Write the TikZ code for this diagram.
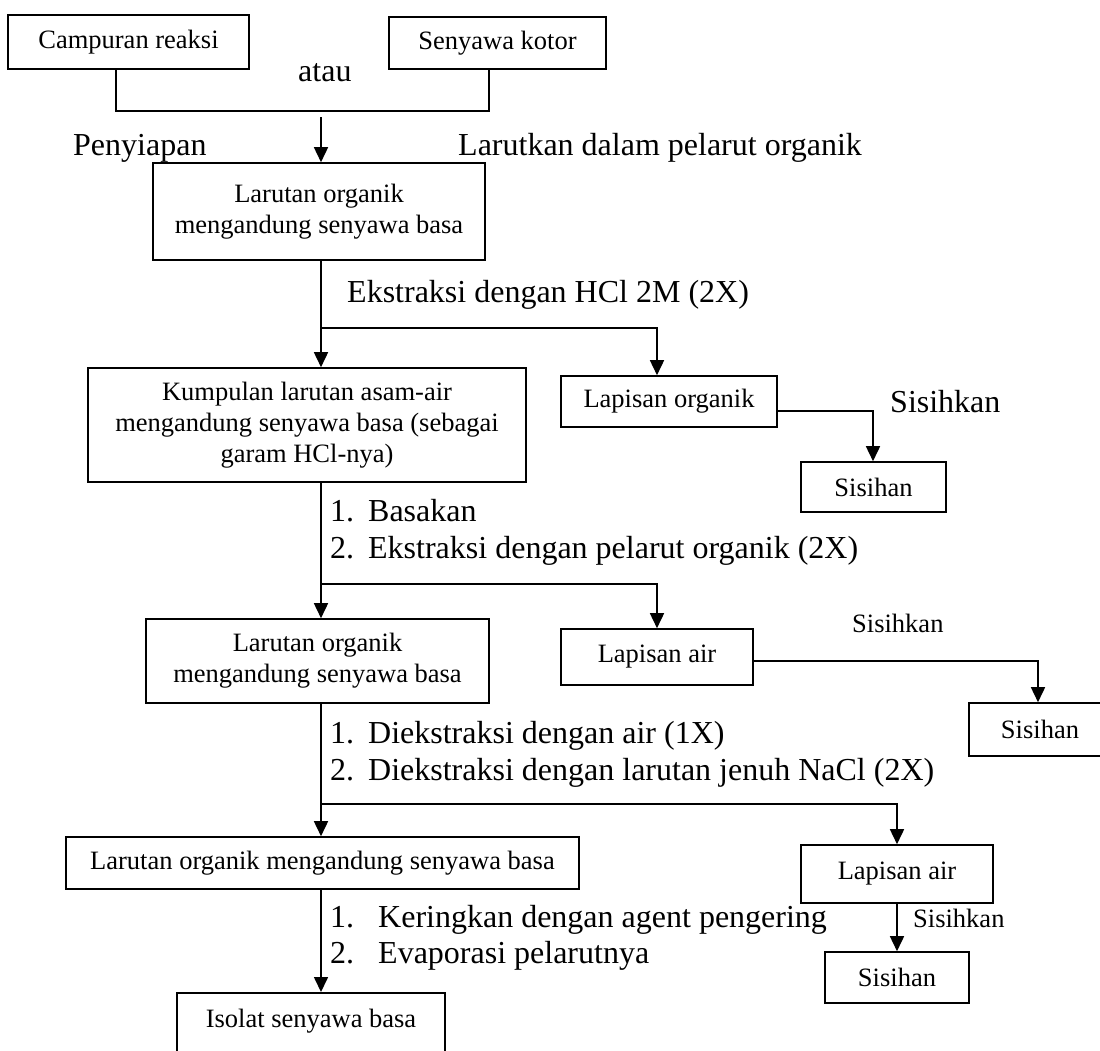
\documentclass[tikz,border=0pt]{standalone}
\usepackage{fontspec}
\setmainfont{Liberation Serif}
\usetikzlibrary{arrows.meta}

\tikzset{
  box/.style={draw, line width=1.6pt, inner sep=0pt, align=center,
              font=\fontsize{26.5}{31}\selectfont},
  big/.style={inner sep=0pt, anchor=base west, font=\fontsize{32}{38}\selectfont},
  small/.style={inner sep=0pt, anchor=base west, font=\fontsize{26.5}{31}\selectfont},
  link/.style={line width=1.6pt},
  arr/.style={link, -{Triangle[width=14pt,length=15pt]}},
}

\begin{document}
\begin{tikzpicture}[x=1pt,y=-1pt]
  % page frame
  \fill[white] (0,0) rectangle (1100,1050);
  \useasboundingbox (0,0) rectangle (1100,1050);
  \clip (0,0) rectangle (1100,1050);

  % main spine of the procedure
  \coordinate (spine) at (321,0);

  % starting materials
  \node[box, minimum width=241, minimum height=54] (camp) at (128.5,42) {Campuran reaksi};
  \node[box, minimum width=217, minimum height=52] (kotor) at (497.5,43) {Senyawa kotor};
  \node[big] (atau) at (298,81) {atau};

  % process boxes along the spine
  \node[box, minimum width=332, minimum height=97] (lar1) at (319,211.5)
       {Larutan organik\\mengandung senyawa basa};
  \node[box, minimum width=438, minimum height=114] (kump) at (307,425)
       {Kumpulan larutan asam-air\\mengandung senyawa basa (sebagai\\garam HCl-nya)};
  \node[box, minimum width=343, minimum height=84] (lar2) at (317.5,661)
       {Larutan organik\\mengandung senyawa basa};
  \node[box, minimum width=513, minimum height=52] (lar3) at (322.5,863)
       {Larutan organik mengandung senyawa basa};
  \node[box, minimum width=268, anchor=north, text height=35pt, text depth=40pt] (iso)
       at (311,992) {Isolat senyawa basa};

  % side streams
  \node[box, minimum width=216, minimum height=51] (lorg) at (669,401.5) {Lapisan organik};
  \node[box, minimum width=145, minimum height=50] (sis1) at (873.5,487) {Sisihan};
  \node[box, minimum width=192, minimum height=56] (lair1) at (657,657) {Lapisan air};
  \node[box, minimum width=142, minimum height=53] (sis2) at (1040,729.5) {Sisihan};
  \node[box, minimum width=192, minimum height=58] (lair2) at (897,874) {Lapisan air};
  \node[box, minimum width=144, minimum height=51] (sis3) at (897,977.5) {Sisihan};

  % step labels
  \node[big] (prep) at (73,155) {Penyiapan};
  \node[big] (dissolve) at (458,155) {Larutkan dalam pelarut organik};
  \node[big] (hcl) at (347,302) {Ekstraksi dengan HCl 2M (2X)};
  \node[big] (s1a) at (330,521) {\makebox[38pt][l]{1.}Basakan};
  \node[big] (s1b) at (330,558) {\makebox[38pt][l]{2.}Ekstraksi dengan pelarut organik (2X)};
  \node[big] (s2a) at (330,743) {\makebox[38pt][l]{1.}Diekstraksi dengan air (1X)};
  \node[big] (s2b) at (330,780) {\makebox[38pt][l]{2.}Diekstraksi dengan larutan jenuh NaCl (2X)};
  \node[big] (s3a) at (330,927) {\makebox[48pt][l]{1.}Keringkan dengan agent pengering};
  \node[big] (s3b) at (330,963) {\makebox[48pt][l]{2.}Evaporasi pelarutnya};
  \node[big] (dis1) at (890,412) {Sisihkan};
  \node[small] (dis2) at (852,632) {Sisihkan};
  \node[small] (dis3) at (913,927) {Sisihkan};

  % joining bracket under the two starting materials
  \coordinate (jl) at (116,111);
  \coordinate (jr) at (489,111);
  \coordinate (mergeout) at (321,117);
  \draw[link] (camp.south -| jl) -- (jl) -- (jr) -- (kotor.south -| jr);
  \draw[arr] (mergeout) -- (mergeout |- lar1.north);

  % first extraction
  \coordinate (b1) at (321,328);
  \coordinate (b1r) at (657,328);
  \draw[arr] (spine |- lar1.south) -- (spine |- kump.north);
  \draw[arr] (b1) -- (b1r) -- (b1r |- lorg.north);
  \coordinate (c1) at (873,411);
  \draw[arr] (lorg.east |- c1) -- (c1) -- (c1 |- sis1.north);

  % basification and back-extraction
  \coordinate (b2) at (321,584);
  \coordinate (b2r) at (657,584);
  \draw[arr] (spine |- kump.south) -- (spine |- lar2.north);
  \draw[arr] (b2) -- (b2r) -- (b2r |- lair1.north);
  \coordinate (c2) at (1038,661);
  \draw[arr] (lair1.east |- c2) -- (c2) -- (c2 |- sis2.north);

  % washing
  \coordinate (b3) at (321,804);
  \coordinate (b3r) at (897,804);
  \draw[arr] (spine |- lar2.south) -- (spine |- lar3.north);
  \draw[arr] (b3) -- (b3r) -- (b3r |- lair2.north);
  \draw[arr] (lair2.south) -- (sis3.north);

  % drying and evaporation
  \draw[arr] (spine |- lar3.south) -- (spine |- iso.north);
\end{tikzpicture}
\end{document}
